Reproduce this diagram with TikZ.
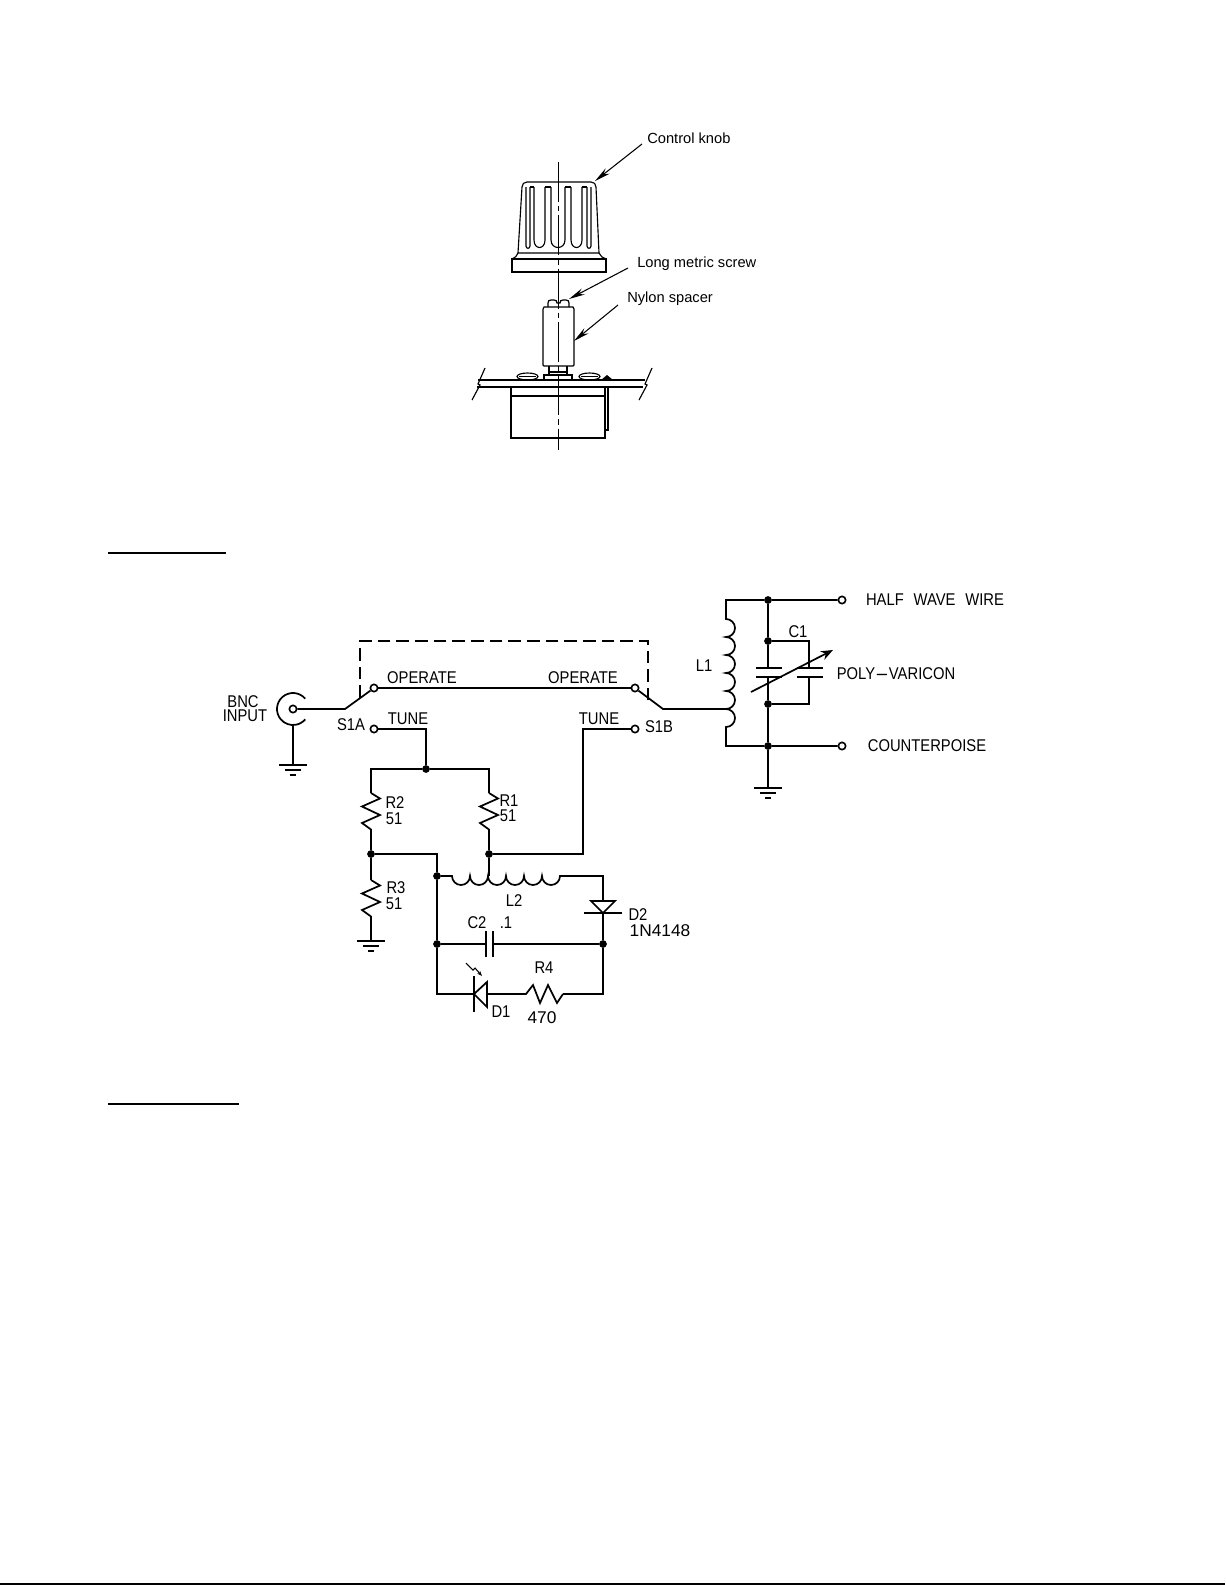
\documentclass[tikz,border=0pt]{standalone}
\usepackage{fontspec}
\setmainfont{Liberation Sans}
\newfontfamily\cadfont[FakeStretch=0.87]{Liberation Sans}
\newfontfamily\cadwide[FakeStretch=1.02]{Liberation Sans}
\usetikzlibrary{arrows.meta}
\tikzset{
  wire/.style={line width=1.3pt},
  mech/.style={line width=.85pt},
  leader/.style={line width=.8pt,-{Stealth[length=12pt,width=5pt]}},
  contact/.style={circle,draw,line width=1.2pt,fill=white,inner sep=0pt,minimum size=5.5pt},
  junct/.style={circle,fill=black,inner sep=0pt,minimum size=5.8pt},
  cad/.style={font=\cadfont\fontsize{12.75}{13}\selectfont,inner sep=0pt,text height=9.1pt,text depth=0pt},
  cadnum/.style={cad,font=\cadwide\fontsize{12.75}{13}\selectfont},
  callout/.style={font=\fontsize{11}{13}\selectfont,inner sep=0pt,anchor=base west},
  gnd/.pic={\draw[wire] (-14,0) -- (14,0) (-8,5) -- (8,5) (-3,10) -- (3,10);}
}
\begin{document}
\begin{tikzpicture}[x=.75pt,y=-.75pt]
  \useasboundingbox (0,0) rectangle (1225,1585);
  \fill[white] (0,0) rectangle (1225,1585);

  %section rules
  \draw[line width=1.6pt] (108,553) -- (226,553);
  \draw[line width=2.2pt] (108,1104) -- (239,1104);
  \draw[line width=1.6pt] (0,1584) -- (1225,1584);

  %knob
  \begin{scope}[mech]
    \draw (518,253) -- (522,187) .. controls (522,184) and (524,182) .. (527,182)
      -- (591,182) .. controls (594,182) and (596,184) .. (596,187) -- (599,253) -- cycle;
    \draw (518,253) .. controls (517,256) and (515,258) .. (512,259);
    \draw (599,253) .. controls (600,256) and (603,258) .. (606,259);
    \draw (512,259) rectangle (606,272);
    \foreach \a/\b in {526/530,587/591}
      \draw (\a,187) -- (\a,246) .. controls (\a,249) and (\b,249) .. (\b,246) -- (\b,187);
    \foreach \a/\b in {534/545,551/565,571/582}
      \draw (\a,187) -- (\a,240) .. controls (\a,250) and (\b,250) .. (\b,240) -- (\b,187);
    \foreach \a/\b in {530/534,545/551,565/571,582/587}
      \draw (\a,187) -- (\b,187);

    %screw and spacer
    \draw (548,307) -- (548,303) .. controls (548,301) and (549,300) .. (551,300) -- (554,300) .. controls (556,300) and (557,301) .. (557,303)
      -- (560,303) .. controls (560,301) and (561,300) .. (563,300) -- (566,300) .. controls (568,300) and (569,301) .. (569,303) -- (569,307);
    \draw (544,307) -- (573,307) -- (574,309) -- (574,365) -- (573,366) -- (544,366) -- (543,365) -- (543,309) -- cycle;
    \draw (549,366) -- (549,375) (567,366) -- (567,375) (549,372) -- (567,372);
    \draw (544,380) -- (544,375) -- (572,375) -- (572,380);

    %panel
    \draw (478,380) -- (645,380) (477,387) -- (643,387);
    \draw (485,368) -- (478,384) -- (480,385) -- (472,400);
    \draw (652,368) -- (645,384) -- (647,385) -- (639,400);
    \foreach \x in {517,579} {
      \draw (\x+10.5,376.5) ellipse [x radius=10.5,y radius=3.5];
      \draw (\x+2,376.5) -- (\x+19,376.5);
    }
    \fill (601,380) -- (607,375) -- (613,380) -- cycle;

    %pot body
    \draw (511,387) rectangle (605,438);
    \draw (511,396) -- (605,396);
    \draw (608,387) -- (608,430) -- (605,430);

    %centre line
    \draw[line width=.5pt,dash pattern=on 30pt off 3pt on 4pt off 3pt] (558,162) -- (558,450);
  \end{scope}

  \node[callout] (knob lbl) at (647,143) {Control knob};
  \node[callout] (screw lbl) at (637,267) {Long metric screw};
  \node[callout] (spacer lbl) at (627,302) {Nylon spacer};
  \coordinate (knob tip) at (595,181);
  \coordinate (screw tip) at (569,299);
  \coordinate (spacer tip) at (574,341);
  \draw[leader] (642,144) -- (knob tip);
  \draw[leader] (628,268) -- (screw tip);
  \draw[leader] (618,305) -- (spacer tip);

  %contacts
  \node[contact] (bnc) at (293,709) {};
  \node[contact] (opA) at (374,688) {};
  \node[contact] (opB) at (635,688) {};
  \node[contact] (tuA) at (374,729) {};
  \node[contact] (tuB) at (635,729) {};
  \node[contact] (hw) at (842,600) {};
  \node[contact] (cp) at (842,746) {};

  %junctions
  \node[junct] (jt) at (426,769) {};
  \node[junct] (jr2) at (371,854) {};
  \node[junct] (jr1) at (489,854) {};
  \node[junct] (jl2) at (437,876) {};
  \node[junct] (jc2) at (437,944) {};
  \node[junct] (jd2) at (603,944) {};
  \node[junct] (jhw) at (768,600) {};
  \node[junct] (jca) at (768,641) {};
  \node[junct] (jcb) at (768,704) {};
  \node[junct] (jcp) at (768,746) {};

  %free ends
  \coordinate (swA) at (345,709);
  \coordinate (swB) at (663,709);
  \coordinate (tapL1) at (726,709);
  \coordinate (gangA) at (360,698);
  \coordinate (gangB) at (648,700);
  \coordinate (r2top) at (371,793);
  \coordinate (r2bot) at (371,829);
  \coordinate (r1top) at (489,793);
  \coordinate (r1bot) at (489,829);
  \coordinate (r3top) at (371,880);
  \coordinate (r3bot) at (371,916);
  \coordinate (gndA) at (293,765);
  \coordinate (gndB) at (768,788);
  \coordinate (gndC) at (371,941);
  \coordinate (tapL2) at (489,876);
  \coordinate (tuneB) at (583,729);
  \coordinate (l2a) at (452,876);
  \coordinate (l2b) at (560,876);
  \coordinate (l1a) at (726,619);
  \coordinate (l1b) at (726,727);
  \coordinate (l1top) at (726,600);
  \coordinate (l1bot) at (726,746);
  \coordinate (d2a) at (603,901);
  \coordinate (d2k) at (603,913);
  \coordinate (c2a) at (486,944);
  \coordinate (c2b) at (493,944);
  \coordinate (d1k) at (474,994);
  \coordinate (d1a) at (487,994);
  \coordinate (r4a) at (526,994);
  \coordinate (r4b) at (563,994);
  \coordinate (botL) at (437,994);
  \coordinate (botR) at (603,994);
  \coordinate (c1a) at (768,668);
  \coordinate (c1b) at (768,677);
  \coordinate (c1c) at (809,668);
  \coordinate (c1d) at (809,677);

  \begin{scope}[wire]
    %bnc and switch
    \draw (bnc) -- (swA) -- (opA);
    \draw (opA) -- (opB);
    \draw (opB) -- (swB) -- (tapL1);
    \draw[dash pattern=on 9.5pt off 4.5pt] (gangA) |- (360,641) -- (648,641) -- (gangB);
    \draw ([shift={(40:12pt)}]bnc.center) arc (40:320:12pt);
    \draw (293,725) -- (gndA);
    \draw (tuA) -| (jt);
    \draw (r2top) |- (jt) -| (r1top);
    \draw (tuB) -- (tuneB) |- (jr1);

    %resistors
    \foreach \r in {r2top,r1top,r3top}
      \draw (\r) -- ++(9,5.5) -- ++(-18,8) -- ++(18,8.5) -- ++(-18,8) -- ++(9,6.5);
    \draw (r2bot) -- (jr2) -- (r3top);
    \draw (r3bot) -- (gndC);
    \draw (r1bot) -- (jr1) -- (tapL2);
    \draw (jr2) -| (jl2);

    %L2
    \draw (jl2) -- (l2a) \foreach \i in {1,...,6} {arc (180:360:6.75pt)} -- (l2b) -| (d2a);
    \draw (jl2) -- (jc2) -- (botL) -- (d1k);

    %D2
    \draw (591,901) -- (615,901) -- (d2k) -- cycle;
    \draw (584,913) -- (622,913);
    \draw (d2k) -- (jd2) -- (botR) -- (r4b);

    %C2
    \draw (jc2) -- (c2a);
    \draw (c2b) -- (jd2);
    \draw (486,931) -- (486,957) (493,931) -- (493,957);

    %D1 and R4
    \draw (474,976) -- (474,1012);
    \draw (d1k) -- (487,982) -- (487,1007) -- cycle;
    \draw (d1a) -- (r4a) -- ++(7,-9) -- ++(7,18) -- ++(8,-18) -- ++(9,18) -- (r4b);
    \draw[line width=.8pt,-{Stealth[length=4pt,width=3pt]}] (466,963) -- (473,970) -- (475,968) -- (482,976);

    %L1
    \draw (hw) -- (jhw) -- (l1top) -- (l1a) \foreach \i in {1,...,6} {arc (90:-90:6.75pt)} -- (l1bot) -- (jcp) -- (cp);
    \draw (jhw) -- (jca) -- (c1a);
    \draw (c1b) -- (jcb) -- (jcp) -- (gndB);

    %C1
    \draw (756,668) -- (782,668) (756,677) -- (782,677);
    \draw (797,668) -- (823,668) (797,677) -- (823,677);
    \draw (jca) -| (c1c);
    \draw (jcb) -| (c1d);
    \draw[-{Stealth[open,length=9pt,width=7pt]}] (751,692) -- (833,650);
  \end{scope}

  \path (gndA) pic {gnd};
  \path (gndB) pic {gnd};
  \path (gndC) pic {gnd};

  %labels
  \node[cad] (bnc1) at (243,701) {BNC};
  \node[cad] (bnc2) at (245,715) {INPUT};
  \node[cad] (opAl) at (422,677) {OPERATE};
  \node[cad] (opBl) at (583,677) {OPERATE};
  \node[cad] (s1a) at (351,724) {S1A};
  \node[cad] (s1b) at (659,726) {S1B};
  \node[cad] (tuAl) at (408,718) {TUNE};
  \node[cad] (tuBl) at (599,718) {TUNE};
  \node[cad] (r2l) at (395,802) {R2};
  \node[cad] (r2v) at (394,818) {51};
  \node[cad] (r1l) at (509,800) {R1};
  \node[cad] (r1v) at (508,815) {51};
  \node[cad] (r3l) at (396,887) {R3};
  \node[cad] (r3v) at (394,903) {51};
  \node[cad] (l2l) at (514,900) {L2};
  \node[cad] (d2l) at (638,914) {D2};
  \node[cadnum] (d2v) at (660,930) {1N4148};
  \node[cad] (c2l) at (477,922) {C2};
  \node[cad] (c2v) at (506,922) {.1};
  \node[cad] (r4l) at (544,967) {R4};
  \node[cad] (d1l) at (501,1011) {D1};
  \node[cadnum] (r4v) at (542,1017) {470};
  \node[cad] (hwl) at (935,599) {HALF\ \hspace{1.2pt}\ WAVE\ \hspace{1.2pt}\ WIRE};
  \node[cad] (cpl) at (927,745) {COUNTERPOISE};
  \node[cad] (c1l) at (798,631) {C1};
  \node[cad] (l1l) at (704,665) {L1};
  \node[cad] (pvl) at (896,673) {POLY\scalebox{2.8}[1]{-}VARICON};
\end{tikzpicture}
\end{document}
